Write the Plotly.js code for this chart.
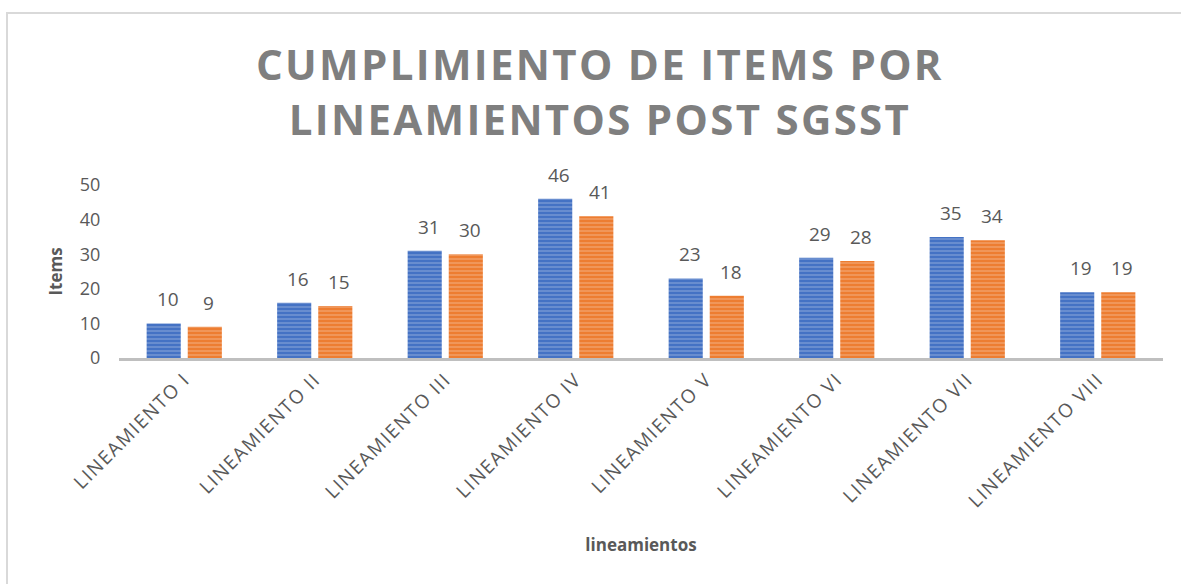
<!DOCTYPE html>
<html>
<head>
<meta charset="utf-8">
<script src="https://cdn.plot.ly/plotly-3.0.1.min.js"></script>
<style>
html,body{margin:0;padding:0;background:#fff;}
#wrap{position:relative;width:1181px;height:584px;}
#chart{width:1181px;height:584px;}
#frame{position:absolute;left:6px;top:12px;width:1175px;height:572px;border-top:2px solid #d9d9d9;border-left:2px solid #d9d9d9;pointer-events:none;box-sizing:border-box;}
.gtitle{letter-spacing:2.3px;}
.xtick text{letter-spacing:1.5px;}
</style>
</head>
<body>
<div id="wrap"><div id="chart"></div><div id="frame"></div></div>
<script>
const categories = ["LINEAMIENTO I","LINEAMIENTO II","LINEAMIENTO III","LINEAMIENTO IV","LINEAMIENTO V","LINEAMIENTO VI","LINEAMIENTO VII","LINEAMIENTO VIII"];
const seriesA = [10,16,31,46,23,29,35,19];
const seriesB = [9,15,30,41,18,28,34,19];
const yTicks = [0,10,20,30,40,50];

const W = 1181, H = 584;
const margin = {l:119, r:18, t:185, b:226};
const bargap = 0.37, bargroupgap = 0.17;
const labelFont = {family:"Open Sans, Noto Sans, sans-serif", size:19, color:"#595959"};

function trace(vals, color, name){
  return {
    type:"bar", x:categories, y:vals, name:name,
    marker:{color:color, line:{width:0},
      pattern:{shape:"-", fgcolor:"rgba(255,255,255,0.55)", bgcolor:color, size:4, solidity:0.35, fillmode:"overlay"}},
    hoverinfo:"skip"
  };
}

const data = [trace(seriesA,"#4472C4","A"), trace(seriesB,"#ED7D31","B")];

// data labels as annotations, offset to each bar of the group
const catPx = (W - margin.l - margin.r) / categories.length;
const slot = catPx * (1 - bargap) / 2;
const annotations = [];
[seriesA, seriesB].forEach((vals, si) => {
  const dx = (si === 0 ? -slot/2 : slot/2) + 4;
  vals.forEach((v, i) => {
    annotations.push({x:categories[i], y:v, xref:"x", yref:"y", text:String(v), showarrow:false,
      xanchor:"center", yanchor:"bottom", xshift:dx, yshift:9, font:labelFont});
  });
});

const layout = {
  width:W, height:H,
  paper_bgcolor:"#ffffff", plot_bgcolor:"#ffffff",
  showlegend:false,
  margin:margin,
  bargap:bargap, bargroupgap:bargroupgap,
  annotations:annotations,
  title:{text:"CUMPLIMIENTO DE ITEMS POR<br>LINEAMIENTOS POST SGSST", x:0.508, xanchor:"center", y:0.863, yanchor:"top",
    font:{family:"Open Sans, sans-serif", size:42, color:"#7f7f7f", weight:700}},
  xaxis:{type:"category", showline:true, linecolor:"#bfbfbf", linewidth:3, ticks:"", tickangle:-45,
    tickfont:{family:"Open Sans, sans-serif", size:19, color:"#595959"},
    title:{text:"lineamientos", standoff:27, font:{family:"Open Sans, sans-serif", size:17, color:"#595959", weight:700}},
    showgrid:false, zeroline:false, fixedrange:true},
  yaxis:{range:[0,50], tickvals:yTicks, showline:false, showgrid:false, zeroline:false,
    ticks:"outside", ticklen:14, tickcolor:"rgba(0,0,0,0)",
    tickfont:{family:"Open Sans, sans-serif", size:18, color:"#595959"},
    title:{text:"Items", standoff:12, font:{family:"Open Sans, sans-serif", size:17, color:"#595959", weight:700}}}
};

Plotly.newPlot("chart", data, layout, {displayModeBar:false, staticPlot:true});
</script>
</body>
</html>
